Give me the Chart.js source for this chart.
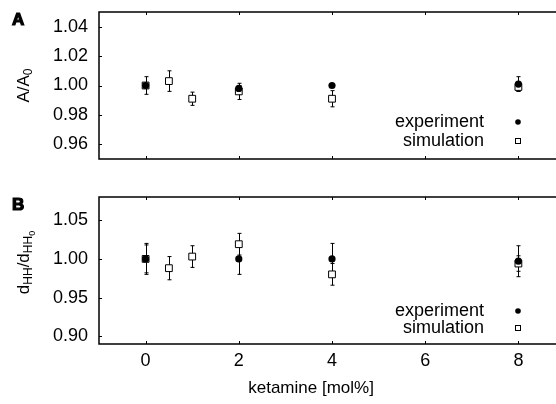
<!DOCTYPE html>
<html>
<head>
<meta charset="utf-8">
<script src="https://cdn.jsdelivr.net/npm/chart.js@4/dist/chart.umd.min.js"></script>
<style>
  html, body { margin: 0; padding: 0; background: #fff; }
  #wrap { width: 556px; height: 404px; overflow: hidden; position: relative; }
  canvas { display: block; }
</style>
</head>
<body>
<div id="wrap">
  <canvas id="chartA" width="565" height="185"></canvas>
  <canvas id="chartB" width="565" height="219"></canvas>
</div>
<script>
// ketamine concentration [mol%]
const xExp = [0, 2, 4, 8];
const xSim = [0, 0.5, 1, 2, 4, 8];
const xTicks = [0, 2, 4, 6, 8];

// panel A: area per lipid, A/A0
const expA = [1.000, 0.998, 1.000, 1.001];
const expErrA = [0.006, 0.002, 0, 0.005];
const simA = [1.000, 1.003, 0.991, 0.996, 0.991, 0.999];
const simErrA = [0, 0.007, 0.0045, 0.0055, 0.0055, 0.003];
const yTicksA = [0.96, 0.98, 1.00, 1.02, 1.04];

// panel B: head-head distance, dHH/dHH0
const expB = [1.000, 1.000, 1.000, 0.997];
const expErrB = [0.02, 0.02, 0.02, 0.02];
const simB = [1.000, 0.988, 1.003, 1.019, 0.980, 0.994];
const simErrB = [0.018, 0.015, 0.014, 0.014, 0.014, 0.01];
const yTicksB = [0.90, 0.95, 1.00, 1.05];

const FONT = 'Liberation Sans, Arial, sans-serif';
const SIZE = 18;

function pts(xs, ys, errs) {
  return xs.map((x, i) => ({ x: x, y: ys[i], e: errs[i] }));
}

function line(ctx, x1, y1, x2, y2) {
  ctx.beginPath();
  ctx.moveTo(x1, y1);
  ctx.lineTo(x2, y2);
  ctx.stroke();
}

// frame, inward ticks and error bars
const framePlugin = {
  id: 'frame',
  beforeDatasetsDraw(chart) {
    const { ctx, chartArea: a, scales: { x, y } } = chart;
    ctx.save();
    ctx.strokeStyle = '#000';
    ctx.lineWidth = 1.5;
    ctx.beginPath();
    ctx.moveTo(a.right + 10, a.top);
    ctx.lineTo(a.left, a.top);
    ctx.lineTo(a.left, a.bottom);
    ctx.lineTo(a.right + 10, a.bottom);
    ctx.stroke();

    ctx.lineWidth = 1;
    x.ticks.forEach(t => {
      const px = Math.round(x.getPixelForValue(t.value)) + 0.5;
      line(ctx, px, a.top, px, a.top + 3);
      line(ctx, px, a.bottom, px, a.bottom - 3);
    });
    y.ticks.forEach(t => {
      const py = Math.round(y.getPixelForValue(t.value)) + 0.5;
      line(ctx, a.left, py, a.left + 3, py);
    });

    chart.data.datasets.forEach(ds => {
      ds.data.forEach(p => {
        if (!p.e) return;
        const px = Math.round(x.getPixelForValue(p.x)) + 0.5;
        const top = y.getPixelForValue(p.y + p.e);
        const bot = y.getPixelForValue(p.y - p.e);
        line(ctx, px, top, px, bot);
        line(ctx, px - 2, top, px + 2, top);
        line(ctx, px - 2, bot, px + 2, bot);
      });
    });
    ctx.restore();
  },
  afterDraw(chart, args, opts) {
    const { ctx, chartArea: a } = chart;
    ctx.save();
    ctx.fillStyle = '#000';
    ctx.strokeStyle = '#000';

    // panel letter
    ctx.font = 'bold 17px ' + FONT;
    ctx.textAlign = 'left';
    ctx.textBaseline = 'alphabetic';
    ctx.lineWidth = 1.2;
    ctx.fillText(opts.letter, 12, 25);
    ctx.strokeText(opts.letter, 12, 25);

    // rotated y title with subscripts
    const parts = opts.title;
    const widthOf = p => { ctx.font = p.size + 'px ' + FONT; return ctx.measureText(p.t).width; };
    const total = parts.reduce((s, p) => s + widthOf(p), 0);
    ctx.translate(29, (a.top + a.bottom) / 2 + opts.titleShift);
    ctx.rotate(-Math.PI / 2);
    let cx = -total / 2;
    parts.forEach(p => {
      ctx.font = p.size + 'px ' + FONT;
      ctx.fillText(p.t, cx, p.dy);
      cx += ctx.measureText(p.t).width;
    });
    ctx.setTransform(1, 0, 0, 1, 0, 0);

    // x title
    if (opts.showX) {
      ctx.font = '17px ' + FONT;
      ctx.textAlign = 'center';
      ctx.textBaseline = 'middle';
      ctx.fillText('ketamine [mol%]', a.left + (a.right - a.left) * 0.455, chart.height - 16);
    }

    // legend
    ctx.font = SIZE + 'px ' + FONT;
    ctx.textAlign = 'right';
    ctx.textBaseline = 'middle';
    const mx = a.right - 47;
    const y1 = a.bottom - opts.legendGap[0];
    const y2 = a.bottom - opts.legendGap[1];
    ctx.fillText('experiment', mx - 34, y1);
    ctx.fillText('simulation', mx - 34, y2);
    ctx.beginPath();
    ctx.arc(mx, y1, 2.8, 0, Math.PI * 2);
    ctx.fill();
    ctx.lineWidth = 1;
    ctx.strokeRect(Math.round(mx) - 2.5, Math.round(y2) - 2.5, 5, 5);
    ctx.restore();
  }
};

function noPad(s) {
  s.paddingTop = 0;
  s.paddingBottom = 0;
  s.paddingLeft = 0;
  s.paddingRight = 0;
}

function makeChart(id, exp, expErr, sim, simErr, yTicks, yMin, yMax, bottom, opts) {
  return new Chart(document.getElementById(id), {
    type: 'scatter',
    data: {
      datasets: [
        {
          label: 'experiment',
          data: pts(xExp, exp, expErr),
          pointStyle: 'circle',
          pointRadius: 3.6,
          pointHoverRadius: 3.6,
          backgroundColor: '#000',
          borderColor: '#000',
          borderWidth: 0,
          order: 0
        },
        {
          label: 'simulation',
          data: pts(xSim, sim, simErr),
          pointStyle: 'rect',
          pointRadius: 4.8,
          pointHoverRadius: 4.8,
          backgroundColor: '#fff',
          borderColor: '#000',
          borderWidth: 1,
          order: 1
        }
      ]
    },
    options: {
      responsive: false,
      animation: false,
      events: [],
      layout: { autoPadding: false, padding: { top: 12, left: 0, right: 0, bottom: 0 } },
      plugins: {
        legend: { display: false },
        tooltip: { enabled: false },
        frame: opts
      },
      scales: {
        x: {
          type: 'linear',
          min: -1,
          max: 9,
          grid: { display: false, drawTicks: false },
          border: { display: false },
          afterBuildTicks: s => { s.ticks = xTicks.map(v => ({ value: v })); },
          afterFit: s => { s.height = bottom; noPad(s); },
          ticks: {
            display: opts.showX,
            padding: 6,
            color: '#000',
            font: { family: FONT, size: SIZE },
            callback: v => String(v)
          }
        },
        y: {
          type: 'linear',
          min: yMin,
          max: yMax,
          grid: { display: false, drawTicks: false },
          border: { display: false },
          afterBuildTicks: s => { s.ticks = yTicks.map(v => ({ value: v })); },
          afterFit: s => { s.width = 99; noPad(s); },
          ticks: {
            padding: 11,
            color: '#000',
            font: { family: FONT, size: SIZE },
            callback: v => v.toFixed(2)
          }
        }
      }
    },
    plugins: [framePlugin]
  });
}

makeChart('chartA', expA, expErrA, simA, simErrA, yTicksA, 0.95, 1.05, 26, {
  letter: 'A',
  showX: false,
  titleShift: 0,
  legendGap: [37, 18],
  title: [
    { t: 'A/A', size: 17, dy: 0 },
    { t: '0', size: 12, dy: 3 }
  ]
});

makeChart('chartB', expB, expErrB, simB, simErrB, yTicksB, 0.89, 1.08, 60, {
  letter: 'B',
  showX: true,
  titleShift: -8,
  legendGap: [33, 16],
  title: [
    { t: 'd', size: 17, dy: 0 },
    { t: 'HH', size: 12, dy: 3 },
    { t: '/d', size: 17, dy: 0 },
    { t: 'HH', size: 12, dy: 3 },
    { t: '0', size: 9, dy: 6 }
  ]
});
</script>
</body>
</html>
